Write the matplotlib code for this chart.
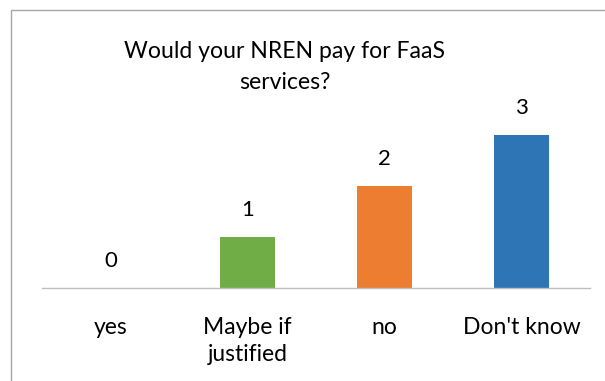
import matplotlib.pyplot as plt
from matplotlib.patches import Rectangle

# chart data
categories = ["yes", "Maybe if\njustified", "no", "Don't know"]
counts = [0, 1, 2, 3]
bar_colors = ["#5B9BD5", "#70AD47", "#ED7D31", "#2E75B6"]

plt.rcParams["font.family"] = ["Lato", "DejaVu Sans"]

W, H = 605, 381
fig = plt.figure(figsize=(W / 100, H / 100), dpi=100)

# chart border (cropped on the right and bottom)
fig.patches.append(Rectangle((11 / W, -0.1), 1.2, 1 - 10 / H + 0.1,
                             transform=fig.transFigure, fill=False,
                             edgecolor="#A6A6A6", linewidth=1.0))

ax = fig.add_axes([42 / W, 1 - 288 / H, 548 / W, 204 / H])
x = range(len(categories))
bars = ax.bar(x, counts, width=0.40, color=bar_colors)

for xi, v in zip(x, counts):
    ax.text(xi, v + 0.52, str(v), ha="center", va="center", fontsize=16, color="black")

ax.set_xlim(-0.5, len(categories) - 0.5)
ax.set_ylim(0, 4)
ax.set_yticks([])
ax.set_xticks(list(x))
ax.set_xticklabels(categories, fontsize=16.5, linespacing=1.35)
ax.tick_params(axis="x", length=0, pad=21)
for side in ["top", "right", "left"]:
    ax.spines[side].set_visible(False)
ax.spines["bottom"].set_color("#BFBFBF")
ax.spines["bottom"].set_linewidth(1.0)

fig.text(285 / W, 1 - 67 / H, "Would your NREN pay for FaaS\nservices?",
         ha="center", va="center", fontsize=16.6, linespacing=1.6)

fig.savefig("out.png", dpi=100)
